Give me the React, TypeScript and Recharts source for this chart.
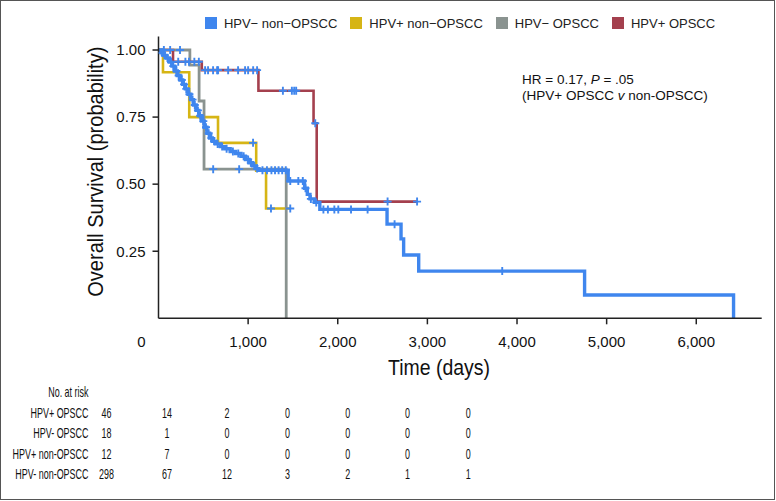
import { ComposedChart, Legend, Line, Scatter, XAxis, YAxis } from "recharts";

// colours of the four groups
const BLUE = "#3F86EE";
const YELLOW = "#D6B515";
const GRAY = "#8A9390";
const RED = "#A4404E";

const xTicks = [0, 1000, 2000, 3000, 4000, 5000, 6000];
const yTicks = [0.25, 0.5, 0.75, 1.0];

// Kaplan-Meier steps (t = days, p = survival)
const hpvNegNonOpscc = [
    { t: 0, p: 1.0 }, { t: 30, p: 0.99 }, { t: 60, p: 0.98 }, { t: 90, p: 0.97 },
    { t: 120, p: 0.955 }, { t: 150, p: 0.94 }, { t: 180, p: 0.922 }, { t: 210, p: 0.905 },
    { t: 240, p: 0.888 }, { t: 270, p: 0.872 }, { t: 300, p: 0.855 }, { t: 330, p: 0.835 },
    { t: 360, p: 0.815 }, { t: 390, p: 0.795 }, { t: 420, p: 0.775 }, { t: 450, p: 0.755 },
    { t: 480, p: 0.735 }, { t: 510, p: 0.712 }, { t: 540, p: 0.69 }, { t: 570, p: 0.672 },
    { t: 600, p: 0.66 }, { t: 640, p: 0.65 }, { t: 690, p: 0.64 }, { t: 740, p: 0.632 },
    { t: 800, p: 0.622 }, { t: 860, p: 0.614 }, { t: 920, p: 0.604 }, { t: 970, p: 0.592 },
    { t: 1010, p: 0.58 }, { t: 1050, p: 0.568 }, { t: 1090, p: 0.558 }, { t: 1120, p: 0.552 },
    { t: 1447, p: 0.512 }, { t: 1630, p: 0.485 }, { t: 1660, p: 0.462 }, { t: 1690, p: 0.445 },
    { t: 1740, p: 0.432 }, { t: 1800, p: 0.406 }, { t: 2550, p: 0.351 }, { t: 2706, p: 0.296 },
    { t: 2735, p: 0.236 }, { t: 2903, p: 0.176 }, { t: 4754, p: 0.087 }, { t: 6416, p: 0 },
];

const hpvPosNonOpscc = [
    { t: 0, p: 1.0 }, { t: 50, p: 0.917 }, { t: 343, p: 0.75 }, { t: 664, p: 0.654 },
    { t: 1090, p: 0.55 }, { t: 1200, p: 0.409 }, { t: 1470, p: 0.409 },
];

const hpvNegOpscc = [
    { t: 0, p: 1.0 }, { t: 350, p: 0.944 }, { t: 453, p: 0.81 }, { t: 508, p: 0.556 },
    { t: 1425, p: 0 },
];

const hpvPosOpscc = [
    { t: 0, p: 1.0 }, { t: 162, p: 0.956 }, { t: 483, p: 0.925 }, { t: 1115, p: 0.848 },
    { t: 1730, p: 0.727 }, { t: 1765, p: 0.435 }, { t: 2885, p: 0.435 },
];

// censored observations (all drawn as blue crosses in the figure)
const censorBlue = [
    { t: 40, p: 0.99 }, { t: 70, p: 0.98 }, { t: 100, p: 0.97 }, { t: 140, p: 0.955 },
    { t: 165, p: 0.94 }, { t: 200, p: 0.922 }, { t: 225, p: 0.905 }, { t: 260, p: 0.888 },
    { t: 285, p: 0.872 }, { t: 310, p: 0.855 }, { t: 345, p: 0.835 }, { t: 380, p: 0.815 },
    { t: 405, p: 0.795 }, { t: 440, p: 0.775 }, { t: 465, p: 0.755 }, { t: 500, p: 0.735 },
    { t: 530, p: 0.712 }, { t: 560, p: 0.69 }, { t: 590, p: 0.672 },
    { t: 620, p: 0.66 }, { t: 660, p: 0.65 }, { t: 710, p: 0.64 }, { t: 760, p: 0.632 },
    { t: 830, p: 0.622 }, { t: 890, p: 0.614 }, { t: 950, p: 0.604 }, { t: 1000, p: 0.592 },
    { t: 1030, p: 0.58 }, { t: 1070, p: 0.568 }, { t: 1100, p: 0.558 },
    { t: 1160, p: 0.552 }, { t: 1210, p: 0.552 }, { t: 1260, p: 0.552 }, { t: 1300, p: 0.552 },
    { t: 1340, p: 0.552 }, { t: 1380, p: 0.552 }, { t: 1420, p: 0.552 },
    { t: 1470, p: 0.512 }, { t: 1560, p: 0.512 }, { t: 1610, p: 0.512 },
    { t: 1640, p: 0.485 }, { t: 1700, p: 0.445 }, { t: 1760, p: 0.432 },
    { t: 1840, p: 0.406 }, { t: 1890, p: 0.406 }, { t: 1962, p: 0.406 }, { t: 2006, p: 0.406 },
    { t: 2148, p: 0.406 }, { t: 2333, p: 0.406 }, { t: 2634, p: 0.351 }, { t: 3835, p: 0.176 },
];
const censorYellow = [{ t: 1055, p: 0.654 }, { t: 1255, p: 0.409 }, { t: 1470, p: 0.409 }];
const censorGray = [
    { t: 60, p: 1.0 }, { t: 130, p: 1.0 }, { t: 240, p: 1.0 }, { t: 610, p: 0.556 }, { t: 900, p: 0.556 },
];
const censorRed = [
    { t: 220, p: 0.956 }, { t: 300, p: 0.956 }, { t: 340, p: 0.956 }, { t: 400, p: 0.956 }, { t: 450, p: 0.956 },
    { t: 520, p: 0.925 }, { t: 553, p: 0.925 }, { t: 609, p: 0.925 }, { t: 654, p: 0.925 },
    { t: 665, p: 0.925 }, { t: 777, p: 0.925 }, { t: 888, p: 0.925 }, { t: 966, p: 0.925 },
    { t: 1000, p: 0.925 }, { t: 1056, p: 0.925 }, { t: 1100, p: 0.925 },
    { t: 1388, p: 0.848 }, { t: 1488, p: 0.848 }, { t: 1514, p: 0.848 }, { t: 1536, p: 0.848 },
    { t: 1749, p: 0.727 }, { t: 2556, p: 0.435 }, { t: 2885, p: 0.435 },
];

const legendItems = [
    { name: "HPV\u2212 non\u2212OPSCC", color: BLUE },
    { name: "HPV+ non\u2212OPSCC", color: YELLOW },
    { name: "HPV\u2212 OPSCC", color: GRAY },
    { name: "HPV+ OPSCC", color: RED },
];

// number at risk table
const riskGroups = ["HPV+ OPSCC", "HPV- OPSCC", "HPV+ non-OPSCC", "HPV- non-OPSCC"];
const riskCounts = [
    [46, 14, 2, 0, 0, 0, 0],
    [18, 1, 0, 0, 0, 0, 0],
    [12, 7, 0, 0, 0, 0, 0],
    [298, 67, 12, 3, 2, 1, 1],
];

const SANS = "'Liberation Sans', Arial, sans-serif";

function TimeTick(props: any) {
    const { x, y, payload } = props;
    const v = payload.value as number;
    return <g>
        {v !== 0 && <line x1={x} x2={x} y1={y - 6} y2={y} stroke="#222" strokeWidth={1.5} />}
        <text x={v === 0 ? x - 17 : x} y={y + 23} textAnchor="middle" fontSize={15}
            fontFamily={SANS} fill="#111">{v.toLocaleString("en-US")}</text>
    </g>;
}

function Censor(props: any) {
    const { cx, cy } = props;
    return <g stroke={BLUE} strokeWidth={1.9}>
        <line x1={cx - 4} x2={cx + 4} y1={cy} y2={cy} />
        <line x1={cx} x2={cx} y1={cy - 4} y2={cy + 4} />
    </g>;
}

function LegendBox() {
    return <div style={{ display: "flex", justifyContent: "center", gap: 13, fontFamily: SANS, fontSize: 13, color: "#222" }}>
        {legendItems.map(item => <div key={item.name} style={{ display: "flex", alignItems: "center", gap: 7, height: 14 }}>
            <span style={{ width: 12, height: 12, background: item.color, display: "inline-block" }} />
            <span>{item.name}</span>
        </div>)}
    </div>;
}

// condensed look of the at-risk table: Arial-metric text squeezed horizontally
const SQUEEZE = 0.64;
const tableCols = [106.5, 167, 227, 287.5, 347.7, 407.5, 468.3];
const tableRows = [418, 438, 459, 479];

export default function App() {
    return <div style={{ position: "absolute", left: 0, top: 0, width: 776, height: 501, background: "#fff" }}>
        <ComposedChart width={776} height={501} margin={{ top: 36.6, right: 14.3, left: 98.5, bottom: 152.7 }}>
            <XAxis dataKey="t" type="number" domain={[0, 6730]} ticks={xTicks} allowDataOverflow
                height={30} tickSize={6} tickMargin={0} tickLine={false} tick={<TimeTick />}
                axisLine={{ stroke: "#222", strokeWidth: 1.5 }} />
            <YAxis dataKey="p" type="number" domain={[0, 1.05]} ticks={yTicks} allowDataOverflow
                width={60} tickSize={6} tickMargin={7} tickFormatter={v => v.toFixed(2)}
                tick={{ fontSize: 15, fill: "#111", fontFamily: SANS }}
                tickLine={{ stroke: "#222", strokeWidth: 1.5 }}
                axisLine={{ stroke: "#222", strokeWidth: 1.5 }} />
            <Legend verticalAlign="middle" align="center" layout="horizontal"
                wrapperStyle={{ top: 16, left: 158.5, width: 603 }} content={() => <LegendBox />} />
            <Line data={hpvPosNonOpscc} dataKey="p" type="stepAfter" stroke={YELLOW} strokeWidth={2.6}
                dot={false} activeDot={false} isAnimationActive={false} />
            <Line data={hpvNegOpscc} dataKey="p" type="stepAfter" stroke={GRAY} strokeWidth={2.8}
                dot={false} activeDot={false} isAnimationActive={false} />
            <Line data={hpvPosOpscc} dataKey="p" type="stepAfter" stroke={RED} strokeWidth={2.6}
                dot={false} activeDot={false} isAnimationActive={false} />
            <Line data={hpvNegNonOpscc} dataKey="p" type="stepAfter" stroke={BLUE} strokeWidth={3.4}
                dot={false} activeDot={false} isAnimationActive={false} />
            <Scatter data={censorYellow} dataKey="p" shape={<Censor />} isAnimationActive={false} legendType="none" />
            <Scatter data={censorGray} dataKey="p" shape={<Censor />} isAnimationActive={false} legendType="none" />
            <Scatter data={censorRed} dataKey="p" shape={<Censor />} isAnimationActive={false} legendType="none" />
            <Scatter data={censorBlue} dataKey="p" shape={<Censor />} isAnimationActive={false} legendType="none" />
        </ComposedChart>

        <svg width={776} height={501} style={{ position: "absolute", left: 0, top: 0, pointerEvents: "none" }}>
            <text transform="translate(103.3,171.7) rotate(-90)" textAnchor="middle" fontFamily={SANS}
                fontSize={22} fill="#111" textLength={250} lengthAdjust="spacingAndGlyphs">
                Overall Survival (probability)
            </text>
            <text x={439} y={375} textAnchor="middle" fontFamily={SANS} fontSize={22} fill="#111"
                textLength={102} lengthAdjust="spacingAndGlyphs">Time (days)</text>

            <text x={522} y={84} fontFamily={SANS} fontSize={13.5} fill="#111">
                HR = 0.17, <tspan fontStyle="italic">P</tspan> = .05
            </text>
            <text x={522} y={99.5} fontFamily={SANS} fontSize={13.5} fill="#111">
                (HPV+ OPSCC <tspan fontStyle="italic">v</tspan> non-OPSCC)
            </text>

            <text transform={`translate(88.5,397) scale(${SQUEEZE},1)`} textAnchor="end" fontFamily={SANS}
                fontSize={14} fill="#111">No. at risk</text>
            {riskGroups.map((g, i) => <g key={g}>
                <text transform={`translate(88.5,${tableRows[i]}) scale(${SQUEEZE},1)`} textAnchor="end"
                    fontFamily={SANS} fontSize={14} fill="#111">{g}</text>
                {riskCounts[i].map((n, j) => <text key={j} transform={`translate(${tableCols[j]},${tableRows[i]}) scale(${SQUEEZE},1)`}
                    textAnchor="middle" fontFamily={SANS} fontSize={14} fill="#111">{n}</text>)}
            </g>)}
        </svg>

        <div style={{ position: "absolute", left: 0, top: 0, width: 775, height: 500, border: "1px solid #555", boxSizing: "border-box", pointerEvents: "none" }} />
    </div>;
}
